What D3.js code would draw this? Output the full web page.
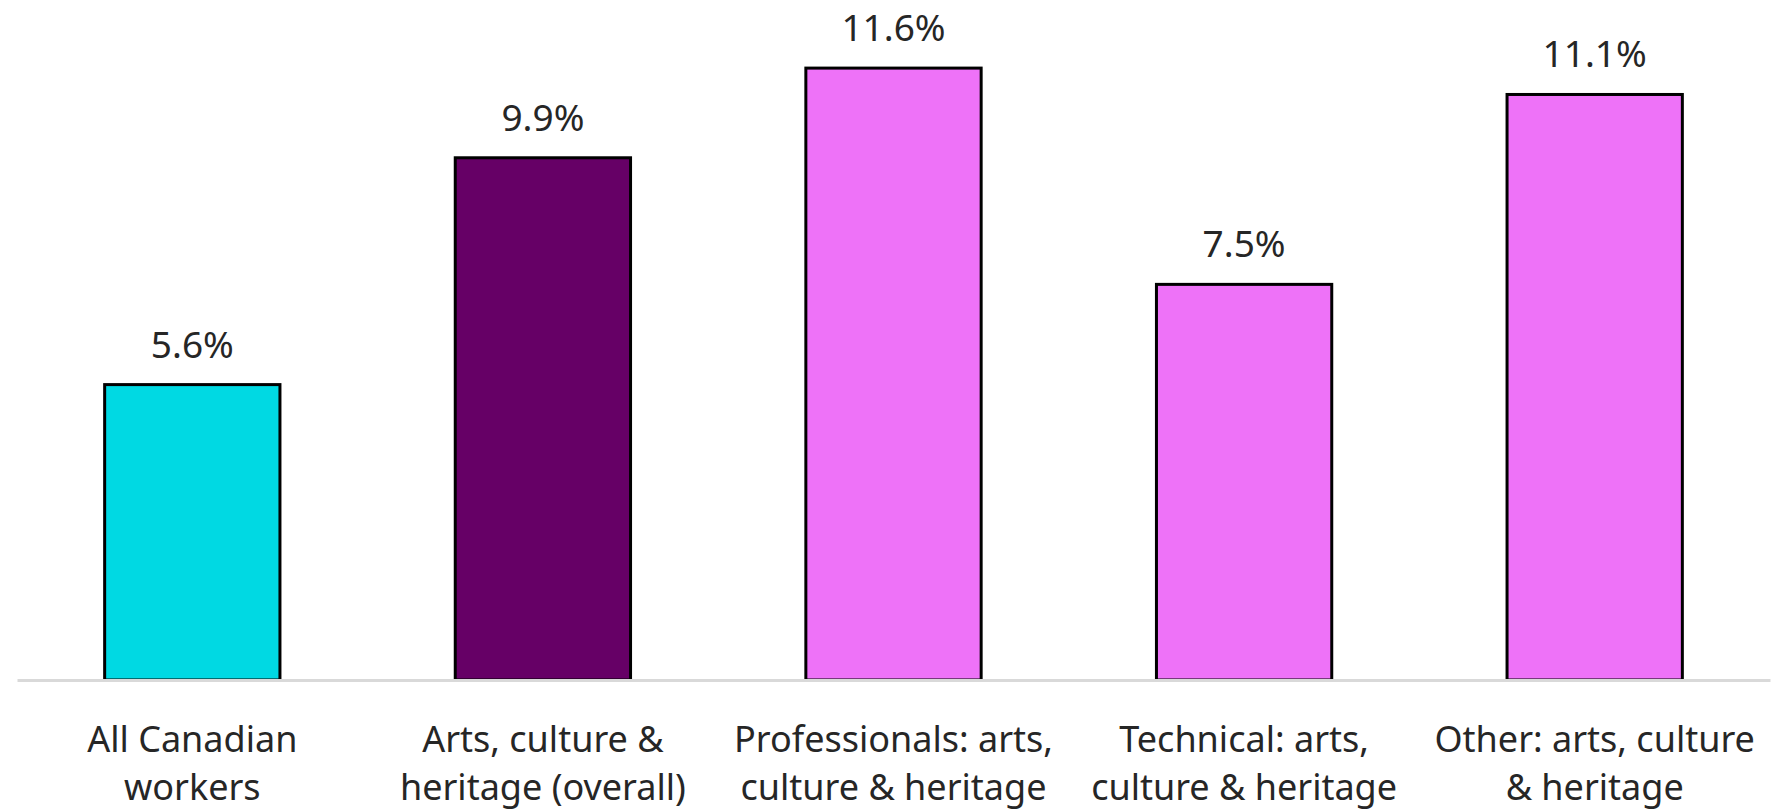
<!DOCTYPE html>
<html>
<head>
<meta charset="utf-8">
<script src="https://cdn.jsdelivr.net/npm/d3@7"></script>
<style>
  html, body { margin: 0; padding: 0; background: #ffffff; }
  svg { display: block; }
  text { font-family: "Noto Sans", "Open Sans", sans-serif; fill: #262626; }
</style>
</head>
<body>
<svg id="chart" width="1779" height="812"></svg>
<script>
// Share of workers, by occupation group (%)
const categories = [
  ["All Canadian", "workers"],
  ["Arts, culture &", "heritage (overall)"],
  ["Professionals: arts,", "culture & heritage"],
  ["Technical: arts,", "culture & heritage"],
  ["Other: arts, culture", "& heritage"]
];
const values = [5.6, 9.9, 11.6, 7.5, 11.1];
const barColors = ["#00D9E3", "#660066", "#EE72F8", "#EE72F8", "#EE72F8"];

const W = 1779, H = 812;
const margin = { left: 17, right: 9, top: 47, bottom: 132 };
const svg = d3.select("#chart");

const keys = categories.map((d, i) => i);
const x = d3.scaleBand()
  .domain(keys)
  .range([margin.left, W - margin.right])
  .paddingInner(0.5)
  .paddingOuter(0.25);

const y = d3.scaleLinear()
  .domain([0, 12])
  .range([H - margin.bottom, margin.top]);

// Bars
svg.append("g")
  .selectAll("rect")
  .data(values)
  .join("rect")
  .attr("x", (d, i) => x(i))
  .attr("y", d => y(d))
  .attr("width", x.bandwidth())
  .attr("height", d => y(0) - y(d))
  .attr("fill", (d, i) => barColors[i])
  .attr("stroke", "#000")
  .attr("stroke-width", 3);

// Value labels
svg.append("g")
  .selectAll("text")
  .data(values)
  .join("text")
  .attr("x", (d, i) => x(i) + x.bandwidth() / 2)
  .attr("y", d => y(d) - 27)
  .attr("text-anchor", "middle")
  .style("font-size", "37px")
  .text(d => d.toFixed(1) + "%");

// Category axis
const xAxis = svg.append("g")
  .attr("transform", `translate(0,${y(0)})`)
  .call(d3.axisBottom(x).tickSize(0).tickFormat(""));
xAxis.select(".domain").attr("stroke", "#D9D9D9").attr("stroke-width", 3);

// Two-line category labels
const labels = svg.append("g")
  .selectAll("text")
  .data(categories)
  .join("text")
  .attr("x", (d, i) => x(i) + x.bandwidth() / 2)
  .attr("y", y(0) + 72)
  .attr("text-anchor", "middle")
  .style("font-size", "36px");
labels.selectAll("tspan")
  .data(d => d)
  .join("tspan")
  .attr("x", function () { return d3.select(this.parentNode).attr("x"); })
  .attr("dy", (d, i) => i === 0 ? 0 : 48)
  .text(d => d);
</script>
</body>
</html>
